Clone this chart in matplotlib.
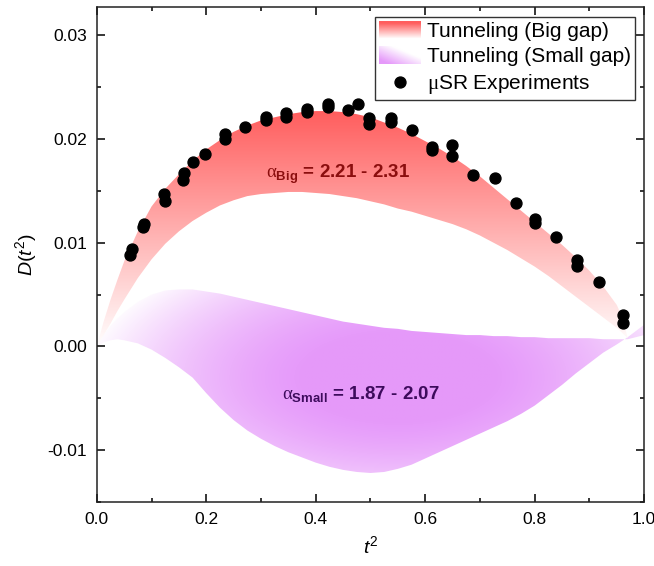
import numpy as np
import matplotlib
matplotlib.use("Agg")
import matplotlib.pyplot as plt
from matplotlib.image import BboxImage
from matplotlib.legend_handler import HandlerBase
from matplotlib.patches import Patch
from matplotlib.ticker import FixedLocator, MultipleLocator
from matplotlib.transforms import Bbox, TransformedBbox

# band edges
t2_big = [0, 0.0125, 0.025, 0.0375, 0.05, 0.075, 0.1, 0.125, 0.15, 0.175, 0.2, 0.225, 0.25, 0.275,
          0.3, 0.325, 0.35, 0.375, 0.4, 0.425, 0.45, 0.475, 0.5, 0.525, 0.55, 0.575, 0.6, 0.625,
          0.65, 0.675, 0.7, 0.725, 0.75, 0.775, 0.8, 0.825, 0.85, 0.875, 0.9, 0.925, 0.95, 0.96, 0.97]
big_upper = [0, 0.0024, 0.0045, 0.0064, 0.0082, 0.0111, 0.0135, 0.0152, 0.0166, 0.0179, 0.0190, 0.0199, 0.0207, 0.0213,
             0.0218, 0.0221, 0.0224, 0.0226, 0.0227, 0.0227, 0.0226, 0.0224, 0.0221, 0.0216, 0.0211, 0.0205, 0.0198, 0.0191,
             0.0183, 0.0174, 0.0164, 0.0153, 0.0142, 0.0131, 0.0120, 0.0109, 0.0098, 0.0086, 0.0073, 0.0058, 0.0040, 0.0028, 0.0008]
big_lower = [0, 0.0011, 0.0022, 0.0034, 0.0045, 0.0066, 0.0084, 0.0099, 0.0111, 0.0121, 0.0129, 0.0136, 0.0141, 0.0145,
             0.0147, 0.0148, 0.0149, 0.0149, 0.0148, 0.0147, 0.0145, 0.0143, 0.0140, 0.0137, 0.0133, 0.0130, 0.0126, 0.0122,
             0.0118, 0.0113, 0.0107, 0.0100, 0.0093, 0.0085, 0.0077, 0.0068, 0.0058, 0.0048, 0.0038, 0.0028, 0.0018, 0.0013, 0.0008]

t2_small = [0, 0.0125, 0.025, 0.0375, 0.05, 0.075, 0.1, 0.125, 0.15, 0.175, 0.2, 0.225, 0.25, 0.275,
            0.3, 0.325, 0.35, 0.375, 0.4, 0.425, 0.45, 0.475, 0.5, 0.525, 0.55, 0.575, 0.6, 0.625,
            0.65, 0.675, 0.7, 0.725, 0.75, 0.775, 0.8, 0.825, 0.85, 0.875, 0.9, 0.925, 0.95, 0.97, 1.0]
small_upper = [0, 0.0011, 0.0020, 0.0027, 0.0033, 0.0043, 0.0050, 0.0054, 0.0055, 0.0055, 0.0053, 0.0051, 0.0048, 0.0045,
               0.0042, 0.0039, 0.0036, 0.0033, 0.0030, 0.0027, 0.0024, 0.0022, 0.0020, 0.0018, 0.0017, 0.0015, 0.0014, 0.0013,
               0.0012, 0.0011, 0.0011, 0.0010, 0.0010, 0.0009, 0.0009, 0.0008, 0.0008, 0.0008, 0.0008, 0.0007, 0.0007, 0.0007, 0.0011]
small_lower = [0, 0.0004, 0.0006, 0.0007, 0.0006, 0.0003, -0.0003, -0.0011, -0.0020, -0.0030, -0.0045, -0.0059, -0.0071, -0.0081,
               -0.0089, -0.0096, -0.0102, -0.0107, -0.0112, -0.0116, -0.0119, -0.0121, -0.0122, -0.0121, -0.0118, -0.0114, -0.0108, -0.0102,
               -0.0096, -0.0090, -0.0084, -0.0078, -0.0072, -0.0065, -0.0057, -0.0047, -0.0037, -0.0026, -0.0016, -0.0006, 0.0002, 0.0009, 0.0021]

# muSR points
t2_exp = [0.060, 0.064, 0.085, 0.086, 0.123, 0.124, 0.158, 0.160, 0.175, 0.197, 0.234, 0.234,
          0.270, 0.310, 0.310, 0.346, 0.346, 0.384, 0.384, 0.423, 0.423, 0.459, 0.477,
          0.498, 0.498, 0.538, 0.538, 0.576, 0.612, 0.612, 0.648, 0.648, 0.687, 0.727,
          0.766, 0.801, 0.801, 0.838, 0.877, 0.877, 0.918, 0.961, 0.961]
d_exp = [0.0088, 0.0094, 0.0115, 0.0118, 0.0147, 0.0140, 0.0161, 0.0167, 0.0178, 0.0186, 0.0205, 0.0200,
         0.0212, 0.0221, 0.0218, 0.0225, 0.0221, 0.0229, 0.0226, 0.0234, 0.0231, 0.0228, 0.0234,
         0.0220, 0.0215, 0.0220, 0.0216, 0.0209, 0.0192, 0.0189, 0.0194, 0.0184, 0.0165, 0.0162,
         0.0138, 0.0123, 0.0119, 0.0106, 0.0083, 0.0078, 0.0062, 0.0030, 0.0023]

x_ticks = [0.0, 0.2, 0.4, 0.6, 0.8, 1.0]
x_ticklabels = ["0.0", "0.2", "0.4", "0.6", "0.8", "1.0"]
y_ticks = [-0.01, 0.0, 0.01, 0.02, 0.03]
y_ticklabels = ["-0.01", "0.00", "0.01", "0.02", "0.03"]

RED = np.array([1.0, 0.37, 0.37])
PURPLE = np.array([0.90, 0.60, 0.98])
XMIN, XMAX = 0.0, 1.0
YMIN, YMAX = -0.015, 0.0327

plt.rcParams["font.family"] = ["Liberation Sans", "DejaVu Sans"]
plt.rcParams["mathtext.fontset"] = "custom"
plt.rcParams["mathtext.rm"] = "Liberation Serif"
plt.rcParams["mathtext.sf"] = "Liberation Sans"
plt.rcParams["mathtext.it"] = "Liberation Sans:italic"
plt.rcParams["mathtext.bf"] = "Liberation Sans:bold"


def blend(color, weight):
    weight = np.clip(weight, 0, 1)[..., None]
    return (1 - weight) * np.ones(3) + weight * color


class GradientHandler(HandlerBase):
    def __init__(self, img):
        super().__init__()
        self.img = img

    def create_artists(self, legend, orig_handle, xdescent, ydescent, width, height, fontsize, trans):
        bbox = TransformedBbox(Bbox.from_bounds(-xdescent, -ydescent, width, height), trans)
        im = BboxImage(bbox, interpolation="bilinear")
        im.set_data(self.img)
        return [im]


fig = plt.figure(figsize=(6.54, 5.66), dpi=100)
ax = fig.add_axes([0.148, 0.113, 0.837, 0.874])

# gradient images clipped to the bands
gx, gy = np.meshgrid(np.linspace(XMIN, XMAX, 400), np.linspace(YMAX, YMIN, 400))
red_img = blend(RED, gy / 0.0226)
fy = (gy - YMIN) / (YMAX - YMIN)
fy_c = (-0.003 - YMIN) / (YMAX - YMIN)
purple_img = blend(PURPLE, 1.1 - ((gx - 0.55) / 0.55) ** 2 - ((fy - fy_c) / 0.28) ** 2)

small_poly = ax.fill_between(t2_small, small_lower, small_upper, facecolor="none", edgecolor="none")
im_small = ax.imshow(purple_img, extent=[XMIN, XMAX, YMIN, YMAX], aspect="auto", interpolation="bilinear")
im_small.set_clip_path(small_poly.get_paths()[0], transform=ax.transData)

big_poly = ax.fill_between(t2_big, big_lower, big_upper, facecolor="none", edgecolor="none")
im_big = ax.imshow(red_img, extent=[XMIN, XMAX, YMIN, YMAX], aspect="auto", interpolation="bilinear")
im_big.set_clip_path(big_poly.get_paths()[0], transform=ax.transData)

pts = ax.scatter(t2_exp, d_exp, s=62, color="black", zorder=5)

ax.text(0.44, 0.0166, r"$\mathrm{\alpha}_{\mathbf{Big}}$ = 2.21 - 2.31", color="#8b0e0e",
        fontsize=13.5, fontweight="bold", ha="center", va="center")
ax.text(0.483, -0.0046, r"$\mathrm{\alpha}_{\mathbf{Small}}$ = 1.87 - 2.07", color="#3d0b5c",
        fontsize=13.5, fontweight="bold", ha="center", va="center")

ax.set_xlim(XMIN, XMAX)
ax.set_ylim(YMIN, YMAX)
ax.xaxis.set_major_locator(FixedLocator(x_ticks))
ax.set_xticklabels(x_ticklabels)
ax.xaxis.set_minor_locator(MultipleLocator(0.1))
ax.yaxis.set_major_locator(FixedLocator(y_ticks))
ax.set_yticklabels(y_ticklabels)
ax.yaxis.set_minor_locator(MultipleLocator(0.005))
ax.tick_params(which="both", direction="in", top=True, right=True, width=1.1, labelsize=12.5, pad=7)
ax.tick_params(which="major", length=6)
ax.tick_params(which="minor", length=3)
for spine in ax.spines.values():
    spine.set_linewidth(1.1)
    spine.set_color("#222222")

ax.set_xlabel(r"$t^{\mathsf{2}}$", fontsize=14, labelpad=6)
ax.set_ylabel(r"$D$($t^{\mathsf{2}}$)", fontsize=14, labelpad=6)

# legend swatches
lx, ly = np.meshgrid(np.linspace(0, 1, 40), np.linspace(1, 0, 20))
red_swatch = blend(RED, ly * 1.1)
purple_swatch = blend(PURPLE, 1.2 - (lx + ly) * 0.9)
h_big = Patch(label="Tunneling (Big gap)")
h_small = Patch(label="Tunneling (Small gap)")
leg = ax.legend([h_big, h_small, pts],
                ["Tunneling (Big gap)", "Tunneling (Small gap)", r"$\mathrm{\mu}$SR Experiments"],
                handler_map={h_big: GradientHandler(red_swatch), h_small: GradientHandler(purple_swatch)},
                loc="upper right", fontsize=15, frameon=True, fancybox=False, framealpha=1,
                edgecolor="#333333", handlelength=2.0, handleheight=0.95, labelspacing=0.25,
                borderpad=0.2, handletextpad=0.3, borderaxespad=0.45, scatterpoints=1)
leg.get_frame().set_linewidth(1.0)

fig.savefig("out.png", dpi=100)
